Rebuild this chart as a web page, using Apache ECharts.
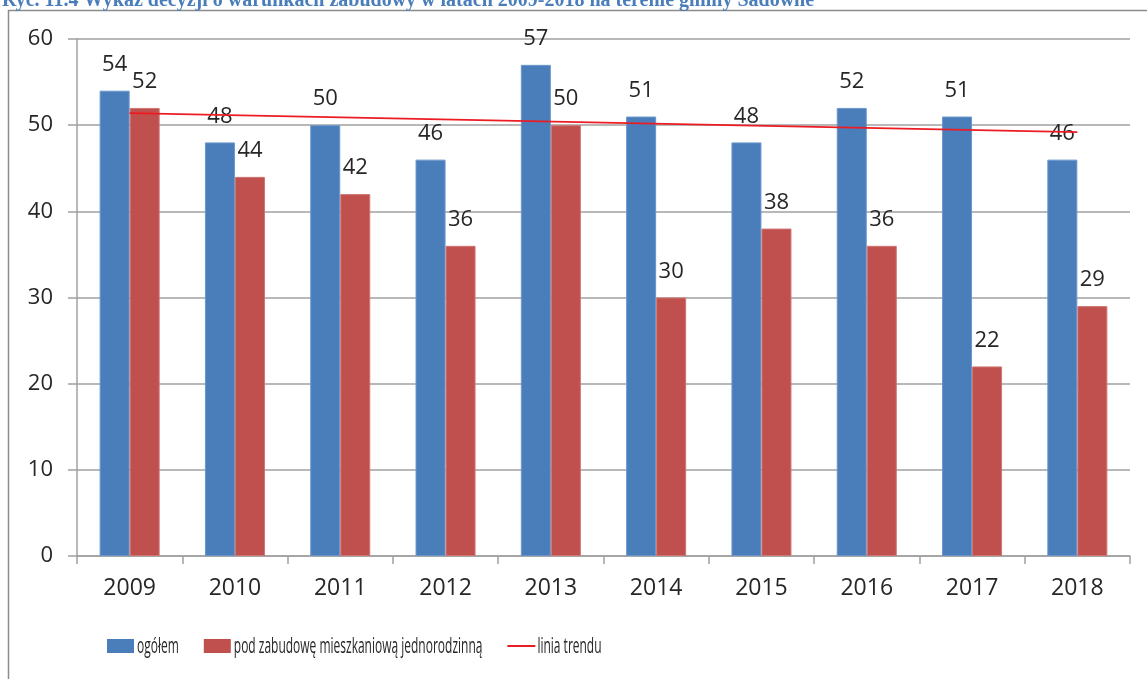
<!DOCTYPE html>
<html>
<head>
<meta charset="utf-8">
<script src="https://cdn.jsdelivr.net/npm/echarts@6/dist/echarts.min.js"></script>
<style>html,body{margin:0;padding:0;background:#fff;}#c{width:1147px;height:679px;}</style>
</head>
<body>
<div id="c"></div>
<script>
const titleText = 'Ryc. 11.4 Wykaz decyzji o warunkach zabudowy w latach 2009-2018 na terenie gminy Sadowne';
const years = ['2009','2010','2011','2012','2013','2014','2015','2016','2017','2018'];
const ogolem = [54, 48, 50, 46, 57, 51, 48, 52, 51, 46];
const jednorodzinna = [52, 44, 42, 36, 50, 30, 38, 36, 22, 29];
const trend = [51.4, null, null, null, null, null, null, null, null, 49.2];
const seriesNames = ['ogółem', 'pod zabudowę mieszkaniową jednorodzinną', 'linia trendu'];
const seriesColors = ['#4a7ebb', '#c0504d', '#ec1c24'];

const chart = echarts.init(document.getElementById('c'), null, {renderer: 'canvas'});
const labelFont = {fontFamily: 'Open Sans', fontSize: 22, color: '#262626'};

// condensed legend (the reference uses a narrow font) built from the series names
const legendFont = '22px "Open Sans"';
const legendScale = 0.545;
const ctx = document.createElement('canvas').getContext('2d');
ctx.font = legendFont;
const legendEls = [];
let cx = 107;
const ly = 646;
seriesNames.forEach(function (name, i) {
  if (i < 2) {
    legendEls.push({type: 'rect', shape: {x: cx, y: ly - 7, width: 27, height: 14}, style: {fill: seriesColors[i]}, silent: true});
  } else {
    legendEls.push({type: 'line', shape: {x1: cx, y1: ly, x2: cx + 28, y2: ly}, style: {stroke: seriesColors[i], lineWidth: 2}, silent: true});
  }
  cx += 30;
  const w = ctx.measureText(name).width * legendScale;
  legendEls.push({type: 'text', x: cx, y: ly + 1, scaleX: legendScale, style: {text: name, font: legendFont, fill: '#262626', verticalAlign: 'middle'}, silent: true});
  cx += w + 25;
});

chart.setOption({
  animation: false,
  backgroundColor: '#fff',
  graphic: [
    {type: 'rect', shape: {x: 8.5, y: 10.5, width: 1300, height: 800}, style: {fill: 'none', stroke: '#8c8c8c', lineWidth: 1.5}, silent: true},
    {type: 'text', x: 2, y: 11, style: {text: titleText, fill: '#4a7ebb', font: 'bold 20px "Liberation Serif", serif', verticalAlign: 'bottom'}, silent: true}
  ].concat(legendEls),
  grid: {left: 77, right: 17, top: 39, bottom: 123},
  xAxis: {
    type: 'category', data: years,
    axisLine: {lineStyle: {color: '#a0a0a0', width: 1.5}},
    axisTick: {show: true, length: 8, lineStyle: {color: '#a0a0a0', width: 1.5}},
    axisLabel: {margin: 21, fontFamily: 'Open Sans', fontSize: 23, color: '#262626'}
  },
  yAxis: {
    type: 'value', min: 0, max: 60, interval: 10,
    axisLine: {show: true, lineStyle: {color: '#a0a0a0', width: 1.5}},
    axisTick: {show: true, length: 9, lineStyle: {color: '#a0a0a0', width: 1.5}},
    splitLine: {lineStyle: {color: '#a0a0a0', width: 1.5}},
    axisLabel: {margin: 24, fontFamily: 'Open Sans', fontSize: 22, color: '#262626'}
  },
  series: [
    {name: seriesNames[0], type: 'bar', data: ogolem, barGap: '0%', barCategoryGap: '43%',
     itemStyle: {color: seriesColors[0], borderColor: '#6b96cc', borderWidth: 1},
     label: Object.assign({show: true, position: 'top', distance: 15}, labelFont)},
    {name: seriesNames[1], type: 'bar', data: jednorodzinna,
     itemStyle: {color: seriesColors[1], borderColor: '#cf7573', borderWidth: 1},
     label: Object.assign({show: true, position: 'top', distance: 15}, labelFont)},
    {name: seriesNames[2], type: 'line', data: trend, connectNulls: true, symbol: 'none', z: 5,
     lineStyle: {color: seriesColors[2], width: 1.8}, itemStyle: {color: seriesColors[2]}}
  ]
});
</script>
</body>
</html>
